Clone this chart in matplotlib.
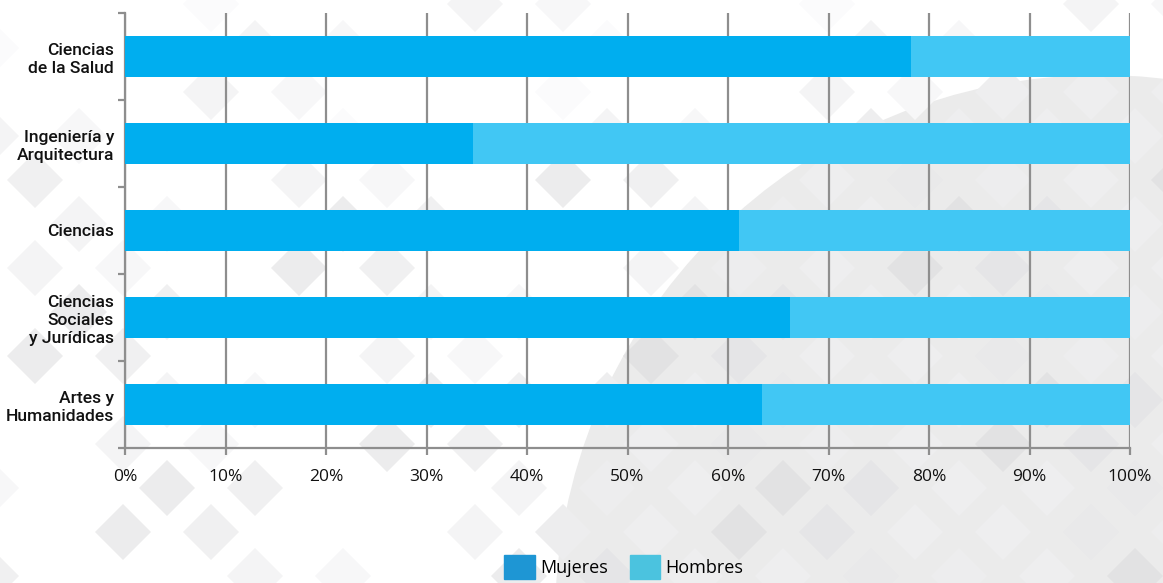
"""
Distribución por sexo del alumnado según rama de conocimiento (barras 100% apiladas).
Output: out.png
"""
import matplotlib
matplotlib.use("Agg")
import matplotlib.pyplot as plt
from matplotlib.patches import Polygon, Circle, Patch

categories = ["Ciencias\nde la Salud", "Ingeniería y\nArquitectura", "Ciencias",
              "Ciencias\nSociales\ny Jurídicas", "Artes y\nHumanidades"]
mujeres = [78.2, 34.6, 61.1, 66.2, 63.4]
hombres = [21.8, 65.4, 38.9, 33.8, 36.6]
xticks = [0, 10, 20, 30, 40, 50, 60, 70, 80, 90, 100]
xlabels = [f"{v}%" for v in xticks]
series_names = ["Mujeres", "Hombres"]

C_MUJ, C_HOM = "#00aeef", "#41c7f4"
C_MUJ_LEG, C_HOM_LEG = "#1e96d4", "#4bc3df"
GRID = "#8e8e8e"
W, H = 1163, 583

fig = plt.figure(figsize=(W / 100, H / 100), dpi=100)
fig.patch.set_facecolor("white")

# decorative background: big grey swoosh + diamond lattice (sparse, varying shade)
bg = fig.add_axes([0, 0, 1, 1], zorder=-1)
bg.set_xlim(0, W); bg.set_ylim(H, 0); bg.axis("off")
bg.add_patch(Circle((1100, 620), 545, color="#ebebeb", lw=0))
half = 28
shades = [1.0, 0.955, 1.0, 0.925, 0.97, 1.0, 0.94]
for j in range(-1, 9):
    for i in range(-1, 15):
        for off in (0, 44):
            cx, cy = 35 + 88 * i + off, 532 - 88 * j + off
            shade = shades[(i * 3 + j * 5 + 2 * (off // 44)) % len(shades)]
            if cy < 150:
                shade = min(1.0, shade + 0.03)
            inside = (cx - 1100) ** 2 + (cy - 620) ** 2 < 545 ** 2
            if inside:
                shade = min(shade, 0.975) - 0.04
            if shade >= 1.0:
                continue
            bg.add_patch(Polygon([(cx - half, cy), (cx, cy - half), (cx + half, cy), (cx, cy + half)],
                                 closed=True, color=(shade, shade, min(1, shade + 0.004)), lw=0))

ax = fig.add_axes([125 / W, 1 - 448 / H, (1130 - 125) / W, (448 - 13) / H])
ax.set_facecolor("none")
y = list(range(len(categories)))
ax.barh(y, mujeres, height=0.48, color=C_MUJ, zorder=3)
ax.barh(y, hombres, left=mujeres, height=0.48, color=C_HOM, zorder=3)
ax.set_xlim(0, 100)
ax.set_ylim(len(categories) - 0.5, -0.5)

ax.set_xticks(xticks)
ax.set_xticklabels(xlabels, family=["Open Sans", "DejaVu Sans"], fontsize=12.5, color="#111111")
ax.xaxis.grid(True, color=GRID, lw=1.6, zorder=1)
ax.tick_params(axis="x", length=5, width=1.6, color=GRID, pad=10)

ax.set_yticks([k - 0.5 for k in range(len(categories) + 1)])
ax.set_yticklabels([])
ax.set_yticks(y, minor=True)
ax.set_yticklabels(categories, minor=True, family=["Roboto", "DejaVu Sans"], fontweight="medium",
                   fontsize=12.6, color="#111111", linespacing=1.25)
ax.tick_params(axis="y", which="major", length=5, width=1.6, color=GRID)
ax.tick_params(axis="y", which="minor", length=0, pad=8)

for s in ("top", "right"):
    ax.spines[s].set_visible(False)
for s in ("left", "bottom"):
    ax.spines[s].set_color(GRID)
    ax.spines[s].set_linewidth(1.6)

handles = [Patch(color=C_MUJ_LEG), Patch(color=C_HOM_LEG)]
fig.legend(handles, series_names, loc="upper left", bbox_to_anchor=(504 / W, 1 - 555 / H),
           ncol=2, frameon=False, borderpad=0, borderaxespad=0, handlelength=1.7, handleheight=1.7,
           handletextpad=0.3, columnspacing=1.2,
           prop={"family": ["Open Sans", "DejaVu Sans"], "size": 13})

fig.savefig("out.png", dpi=100)
